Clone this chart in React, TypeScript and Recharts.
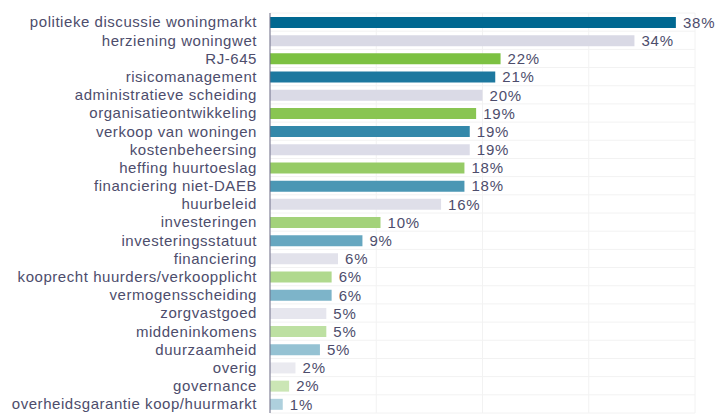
import { BarChart, Bar, XAxis, YAxis, CartesianGrid, Cell, LabelList } from 'recharts'

const categories = [
  'politieke discussie woningmarkt',
  'herziening woningwet',
  'RJ-645',
  'risicomanagement',
  'administratieve scheiding',
  'organisatieontwikkeling',
  'verkoop van woningen',
  'kostenbeheersing',
  'heffing huurtoeslag',
  'financiering niet-DAEB',
  'huurbeleid',
  'investeringen',
  'investeringsstatuut',
  'financiering',
  'kooprecht huurders/verkoopplicht',
  'vermogensscheiding',
  'zorgvastgoed',
  'middeninkomens',
  'duurzaamheid',
  'overig',
  'governance',
  'overheidsgarantie koop/huurmarkt',
]

const values = [38.2, 34.3, 21.7, 21.2, 20.0, 19.4, 18.8, 18.8, 18.3, 18.3, 16.1, 10.4, 8.7, 6.4, 5.8, 5.8, 5.3, 5.3, 4.7, 2.4, 1.8, 1.2]

const colors = [
  '#006891', '#d9d9e5', '#7cc142',
  '#1d789f', '#dadae6', '#89c552',
  '#3388aa', '#dcdce8', '#96cb66',
  '#4b97b4', '#dfdfe9', '#a3d27a',
  '#66a7c0', '#e2e2eb', '#b0d98e',
  '#7db4c9', '#e6e6ee', '#bde0a2',
  '#95c2d3', '#eaeaf0', '#cbe6b5',
  '#aed0dd',
]

const xTicks = [0, 10, 20, 30, 40]

const data = categories.map((name, i) => ({ name, value: values[i] }))

const textColor = '#4d4d6c'
const font = "'Liberation Sans', Arial, sans-serif"

export default function App() {
  return (
    <div style={{ position: 'absolute', left: 0, top: 0 }}>
      <BarChart
        width={718}
        height={414}
        data={data}
        layout="vertical"
        margin={{ top: 13, right: 23, bottom: 1, left: 0 }}
      >
        <CartesianGrid
          stroke="#f2f2f2"
          horizontalCoordinatesGenerator={({ offset }: any) =>
            Array.from({ length: categories.length + 1 }, (_, i) => offset.top + (i * offset.height) / categories.length)
          }
        />
        <XAxis type="number" domain={[0, 40]} ticks={xTicks} hide />
        <YAxis
          type="category"
          dataKey="name"
          width={270}
          tickLine={false}
          axisLine={{ stroke: '#6e6e88' }}
          interval={0}
          tickMargin={7}
          tick={{ fill: textColor, fontSize: 15, fontFamily: font, letterSpacing: 0.55 }}
        />
        <Bar dataKey="value" barSize={11} isAnimationActive={false}>
          {data.map((d, i) => (
            <Cell key={d.name} fill={colors[i]} />
          ))}
          <LabelList
            dataKey="value"
            position="right"
            offset={7}
            formatter={(v: any) => `${Math.round(Number(v))}%`}
            fill={textColor}
            fontSize={15}
            fontFamily={font}
            style={{ letterSpacing: 0.8 }}
          />
        </Bar>
      </BarChart>
    </div>
  )
}
